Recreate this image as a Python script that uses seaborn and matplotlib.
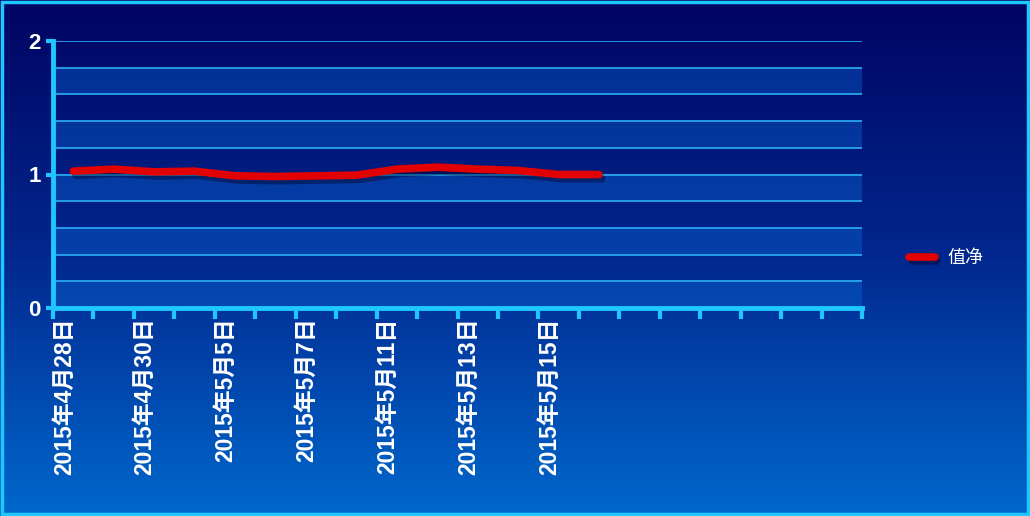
import matplotlib
matplotlib.use("Agg")
import matplotlib.pyplot as plt
import matplotlib.patheffects as pe
import matplotlib.transforms as mtransforms
from matplotlib.patches import Rectangle
import numpy as np
import pandas as pd
import seaborn as sns

# trading days shown on the category axis (only every other one is labelled)
dates = ['2015年4月28日', '2015年4月29日', '2015年4月30日', '2015年5月4日',
         '2015年5月5日', '2015年5月6日', '2015年5月7日', '2015年5月8日',
         '2015年5月11日', '2015年5月12日', '2015年5月13日', '2015年5月14日',
         '2015年5月15日', '2015年5月18日']
nav = [1.025, 1.04, 1.02, 1.025, 0.99, 0.985, 0.99, 0.995,
       1.04, 1.055, 1.04, 1.03, 1.0, 1.0]
n_slots = 20
series_name = '值净'

df = pd.DataFrame({'pos': range(len(dates)), 'date': dates, 'nav': nav})

sns.set_style('ticks')
plt.rcParams['font.family'] = ['Liberation Sans', 'Noto Sans CJK SC', 'DejaVu Sans']

fig = plt.figure(figsize=(10.30, 5.16), dpi=100)

# gradient background
bg = fig.add_axes([0, 0, 1, 1], zorder=-10)
grad = np.linspace(0, 1, 256).reshape(-1, 1)
cmap = matplotlib.colors.LinearSegmentedColormap.from_list('bg', ['#000462', '#02288f', '#0068cc'])
bg.imshow(grad, aspect='auto', cmap=cmap, extent=[0, 1, 0, 1], origin='upper')
bg.set_axis_off()
fig.patches.append(Rectangle((0.0015, 0.003), 0.997, 0.994, transform=fig.transFigure,
                             fill=False, edgecolor='#1ec8ff', lw=2.5))

ax = fig.add_axes([53 / 1030, 1 - 308 / 516, (862 - 53) / 1030, (308 - 41) / 516])
ax.set_facecolor('none')

# alternating bands and grid
for lo in np.arange(0, 2, 0.4):
    ax.axhspan(lo, lo + 0.2, color='#0a6ad8', alpha=0.38, lw=0, zorder=0)
for yv in np.arange(0.2, 2.01, 0.2):
    ax.axhline(yv, color='#2ab0f6', lw=1.2, zorder=1)

sns.lineplot(data=df, x='pos', y='nav', ax=ax, color='#e30000', lw=5.5,
             label=series_name, zorder=5, solid_capstyle='round', solid_joinstyle='round',
             path_effects=[pe.SimpleLineShadow(offset=(2, -3), shadow_color='#000020', alpha=0.4),
                           pe.Normal()])

ax.set_xlim(-0.5, n_slots - 0.5)
ax.set_ylim(0, 2)
ax.set_xlabel('')
ax.set_ylabel('')

for side in ['top', 'right']:
    ax.spines[side].set_visible(False)
for side in ['left', 'bottom']:
    ax.spines[side].set_color('#1ec8ff')
    ax.spines[side].set_linewidth(3.5)
    ax.spines[side].set_zorder(6)

ax.set_yticks([0, 1, 2])
ax.set_yticklabels(['0', '1', '2'])
ax.tick_params(axis='y', which='major', left=True, length=5, width=3, color='#1ec8ff',
               labelcolor='white', labelsize=16, pad=4)
ax.tick_params(axis='y', which='minor', left=False)
for t in ax.get_yticklabels():
    t.set_fontweight('bold')

ax.set_xticks(np.arange(-0.5, n_slots, 1.0))
ax.set_xticklabels([])
ax.tick_params(axis='x', which='major', bottom=True, length=8, width=3,
               color='#1ec8ff', direction='out')
ax.set_xticks(df['pos'][::2], minor=True)
ax.set_xticklabels(df['date'][::2], minor=True, rotation=90)
ax.tick_params(axis='x', which='minor', bottom=True, length=0, pad=7,
               labelcolor='white', labelsize=16.5)
shift = mtransforms.ScaledTranslation(-9 / 100, 0, fig.dpi_scale_trans)
for t in ax.get_xticklabels(minor=True):
    t.set_fontweight('bold')
    t.set_transform(t.get_transform() + shift)

leg = ax.legend(loc='center left', bbox_to_anchor=(893 / 1030, 258 / 516),
                bbox_transform=fig.transFigure, frameon=False, handlelength=1.4,
                handletextpad=0.7,
                prop={'family': ['Noto Sans CJK SC', 'DejaVu Sans'], 'size': 13})
for txt in leg.get_texts():
    txt.set_color('white')

fig.savefig('out.png', dpi=100)
